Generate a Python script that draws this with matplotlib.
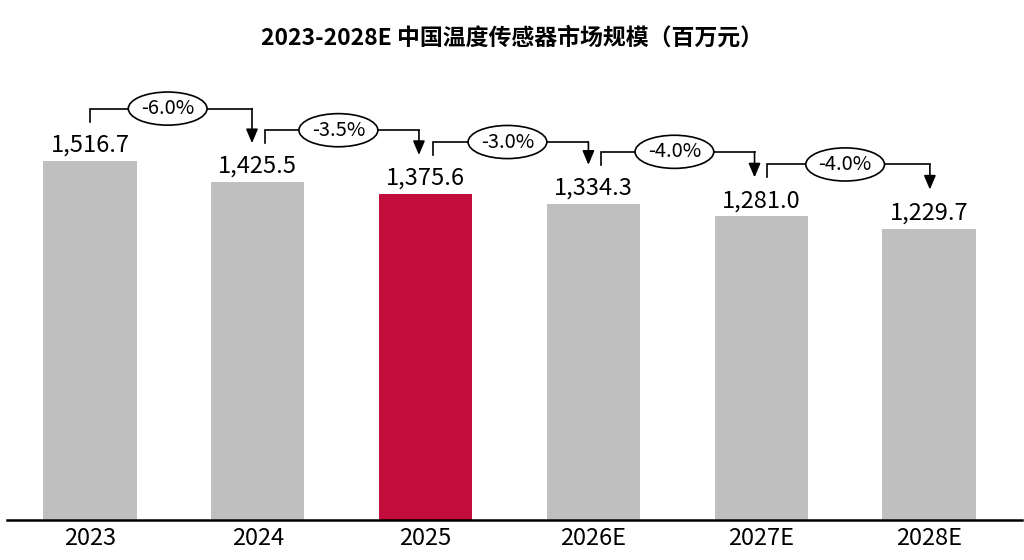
import matplotlib
matplotlib.use("Agg")
import matplotlib.pyplot as plt

plt.rcParams['font.family'] = ['Noto Sans CJK SC', 'DejaVu Sans']

years = ["2023", "2024", "2025", "2026E", "2027E", "2028E"]
values = [1516.7, 1425.5, 1375.6, 1334.3, 1281.0, 1229.7]
growth = ["-6.0%", "-3.5%", "-3.0%", "-4.0%", "-4.0%"]
highlight = "2025"

gray = "#bfbfbf"
red = "#c20c3b"

fig = plt.figure(figsize=(10.24, 5.6), dpi=100)
ax = fig.add_axes([7 / 1024, 40 / 560, 1015 / 1024, 460 / 560])

x = list(range(len(years)))
colors = [red if y == highlight else gray for y in years]
ax.bar(x, values, width=0.555, color=colors, zorder=2)

for xi, v in zip(x, values):
    ax.annotate(f"{v:,.1f}", (xi, v), xytext=(0, 3), textcoords="offset points",
                ha="center", va="bottom", fontsize=17)

# brackets with arrows between neighbouring bars
px = 4.22  # data units per pixel
start_off = [0.0, 0.04, 0.045, 0.045, 0.035]
end_off = [-0.035, -0.04, -0.03, -0.04, 0.005]
for i, g in enumerate(growth):
    x0 = i + start_off[i]
    x1 = i + 1 + end_off[i]
    yh = values[i] + 52 * px
    ax.plot([x0, x0, x1], [yh - 13 * px, yh, yh], color="black", lw=1.2,
            solid_joinstyle="miter", zorder=3)
    ax.annotate("", xy=(x1, values[i + 1] + 39 * px), xytext=(x1, yh),
                arrowprops=dict(arrowstyle="-|>,head_length=0.85,head_width=0.36",
                                color="black", lw=1.2, shrinkA=0, shrinkB=0,
                                mutation_scale=10), zorder=3)
    ax.text((x0 + x1) / 2 - 0.02, yh, g, ha="center", va="center", fontsize=14.5,
            bbox=dict(boxstyle="ellipse,pad=0.06", fc="white", ec="black", lw=1.2),
            zorder=4)

ax.set_xlim(-0.495, 5.554)
ax.set_ylim(0, 460 * px)
ax.set_xticks(x)
ax.set_xticklabels(years, fontsize=17)
ax.tick_params(axis="x", length=0, pad=5)
ax.set_yticks([])
for s in ["top", "left", "right"]:
    ax.spines[s].set_visible(False)
ax.spines["bottom"].set_linewidth(1.8)
ax.spines["bottom"].set_zorder(5)

fig.text(0.5, 1 - 38 / 560, "2023-2028E 中国温度传感器市场规模（百万元）",
         ha="center", va="center", fontsize=16.5, fontweight="bold")

fig.savefig("out.png", dpi=100, facecolor="white")
